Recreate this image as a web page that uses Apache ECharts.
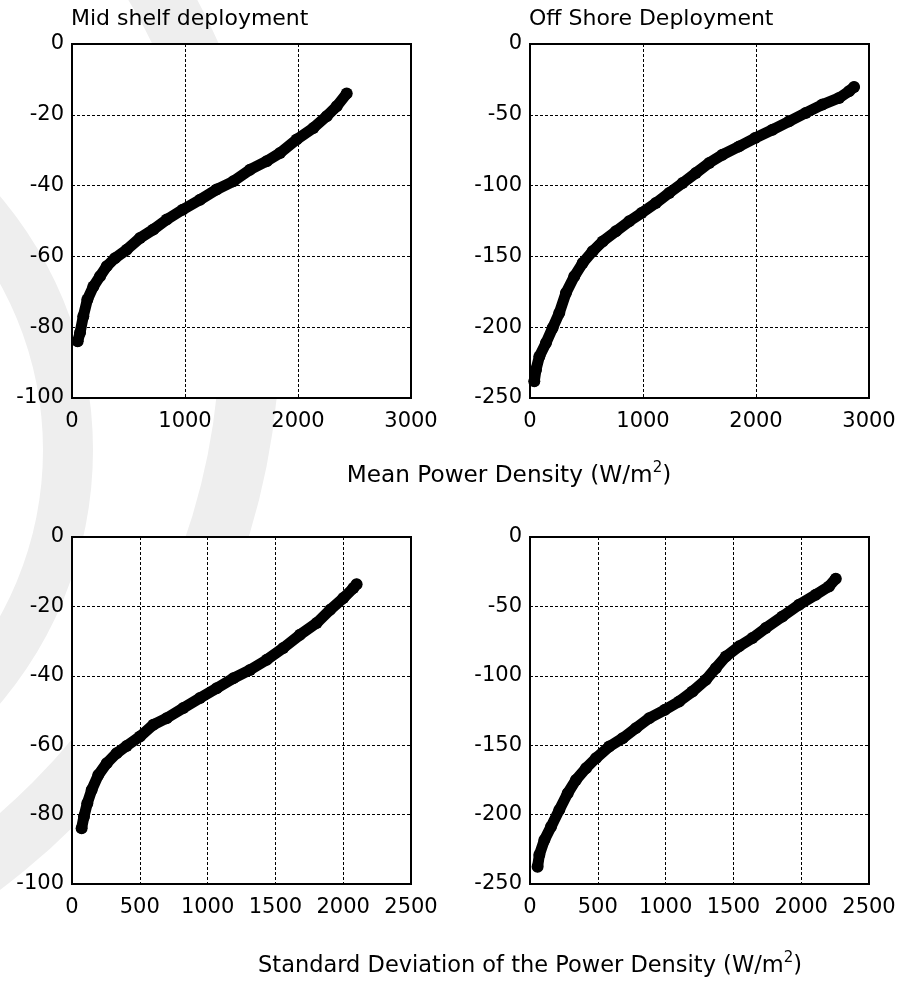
<!DOCTYPE html>
<html>
<head>
<meta charset="utf-8">
<script src="https://cdn.jsdelivr.net/npm/echarts@6/dist/echarts.min.js"></script>
<style>
html,body{margin:0;padding:0;background:#fff;}
#chart{width:899px;height:984px;}
</style>
</head>
<body>
<div id="chart"></div>
<script>
// ---- data ----
const titles = ['Mid shelf deployment', 'Off Shore Deployment'];
const meanLabel = 'Mean Power Density (W/m';
const stdLabel = 'Standard Deviation of the Power Density (W/m';

// Top-left: Mid shelf, x = mean power density
const midMeanX = [50,71,100,136,189,248,307,380,484,602,720,838,979,1133,1280,1428,1575,1723,1841,1988,2136,2254,2342,2431];
const midMeanY = [-84.0,-81.6,-76.9,-72.2,-68.5,-65.6,-62.8,-60.5,-58.1,-54.8,-52.4,-49.6,-46.8,-44.0,-41.1,-38.8,-35.5,-33.1,-30.8,-27.0,-23.7,-20.4,-17.6,-14.0];

// Top-right: Off shore, x = mean power density
const offMeanX = [38,53,83,141,200,259,318,392,466,554,643,760,878,987,1114,1232,1350,1468,1586,1703,1851,1992,2146,2293,2440,2588,2735,2823,2868];
const offMeanY = [-238.2,-230,-220.6,-211.2,-200.6,-190,-175.8,-164.1,-154.7,-146.4,-139.4,-132.3,-125.2,-119.4,-112.3,-105.2,-98.2,-91.1,-84,-78.2,-72.3,-66.4,-60.5,-54.6,-48.7,-42.8,-38.1,-33.4,-30.4];

// Bottom-left: Mid shelf, x = standard deviation
const midStdX = [71,88,113,145,194,256,329,403,501,600,698,821,944,1067,1190,1313,1436,1558,1681,1804,1903,2001,2075,2099];
const midStdY = [-83.9,-80.6,-76.7,-72.9,-68.6,-65.2,-62.3,-60.2,-57.5,-54.1,-52.2,-49.3,-46.4,-43.6,-40.7,-38.3,-35.4,-32.0,-28.2,-24.8,-21.0,-17.6,-14.7,-13.6];

// Bottom-right: Off shore, x = standard deviation
const offStdX = [56,69,106,155,216,278,339,413,486,584,683,781,879,995,1100,1198,1297,1370,1444,1542,1640,1739,1861,1984,2107,2205,2255];
const offStdY = [-237.5,-229,-218.3,-208.7,-196.6,-184.6,-175,-166.6,-159.4,-151,-145,-137.7,-130.5,-124.5,-118.5,-111.3,-102.9,-94.5,-86.1,-78.8,-72.8,-65.6,-57.2,-48.8,-41.6,-35.6,-30.0];

// axis ranges
const meanXRange = [0, 3000, 1000];
const stdXRange = [0, 2500, 500];
const midYRange = [-100, 0, 20];
const offYRange = [-250, 0, 50];

// ---- chart ----
const FONT = 'DejaVu Sans';
const zip = (xs, ys) => xs.map((x, i) => [x, ys[i]]);

const grids = [
  {left: 72, top: 44, width: 339, height: 354},
  {left: 530, top: 44, width: 339, height: 354},
  {left: 72, top: 537, width: 339, height: 347},
  {left: 530, top: 537, width: 339, height: 347}
].map(g => Object.assign({show: true, backgroundColor: '#fff', borderColor: '#000', borderWidth: 2, z: 0}, g));

const plain = v => String(v);
const gridLine = {show: true, showMinLine: false, showMaxLine: false, lineStyle: {color: '#000', width: 1, type: [3, 2]}};

function xAxis(idx, r) {
  return {
    type: 'value', gridIndex: idx, min: r[0], max: r[1], interval: r[2], z: 3,
    axisLine: {show: false}, axisTick: {show: false},
    axisLabel: {color: '#000', fontFamily: FONT, fontSize: 21, margin: 13, formatter: plain},
    splitLine: gridLine
  };
}
function yAxis(idx, r) {
  return {
    type: 'value', gridIndex: idx, min: r[0], max: r[1], interval: r[2], z: 3,
    axisLine: {show: false}, axisTick: {show: false},
    axisLabel: {color: '#000', fontFamily: FONT, fontSize: 21, margin: 8, formatter: plain},
    splitLine: gridLine
  };
}
function curve(idx, xs, ys) {
  return {
    type: 'line', xAxisIndex: idx, yAxisIndex: idx,
    data: zip(xs, ys),
    symbol: 'circle', symbolSize: 12, showSymbol: true,
    lineStyle: {color: '#000', width: 11, cap: 'round', join: 'round'},
    itemStyle: {color: '#000'},
    z: 5
  };
}

function rich(size) {
  return {
    a: {fontFamily: FONT, fontSize: size, color: '#000', lineHeight: 30},
    s: {fontFamily: FONT, fontSize: 15, color: '#000', lineHeight: 15, verticalAlign: 'top'}
  };
}

const option = {
  animation: false,
  backgroundColor: '#fff',
  grid: grids,
  xAxis: [xAxis(0, meanXRange), xAxis(1, meanXRange), xAxis(2, stdXRange), xAxis(3, stdXRange)],
  yAxis: [yAxis(0, midYRange), yAxis(1, offYRange), yAxis(2, midYRange), yAxis(3, offYRange)],
  series: [
    curve(0, midMeanX, midMeanY),
    curve(1, offMeanX, offMeanY),
    curve(2, midStdX, midStdY),
    curve(3, offStdX, offStdY)
  ],
  graphic: [
    // faint watermark arcs in the page background
    {type: 'sector', z: -10, silent: true, shape: {cx: -300, cy: 450, r0: 343, r: 393, startAngle: -Math.PI / 2, endAngle: Math.PI / 2}, style: {fill: '#eeeeee'}},
    {type: 'sector', z: -10, silent: true, shape: {cx: -420, cy: 330, r0: 640, r: 700, startAngle: -Math.PI / 2, endAngle: Math.PI / 2}, style: {fill: '#eeeeee'}},
    {type: 'text', z: 10, x: 71, y: 19, style: {text: titles[0], fill: '#000', fontFamily: FONT, fontSize: 22, textAlign: 'left', textVerticalAlign: 'middle'}},
    {type: 'text', z: 10, x: 529, y: 19, style: {text: titles[1], fill: '#000', fontFamily: FONT, fontSize: 22, textAlign: 'left', textVerticalAlign: 'middle'}},
    {type: 'text', z: 10, x: 509, y: 476, style: {text: '{a|' + meanLabel + '}{s|2}{a|)}', rich: rich(23.2), textAlign: 'center', textVerticalAlign: 'middle'}},
    {type: 'text', z: 10, x: 530, y: 966, style: {text: '{a|' + stdLabel + '}{s|2}{a|)}', rich: rich(22.5), textAlign: 'center', textVerticalAlign: 'middle'}}
  ]
};

const chart = echarts.init(document.getElementById('chart'), null, {renderer: 'canvas'});
chart.setOption(option);
</script>
</body>
</html>
